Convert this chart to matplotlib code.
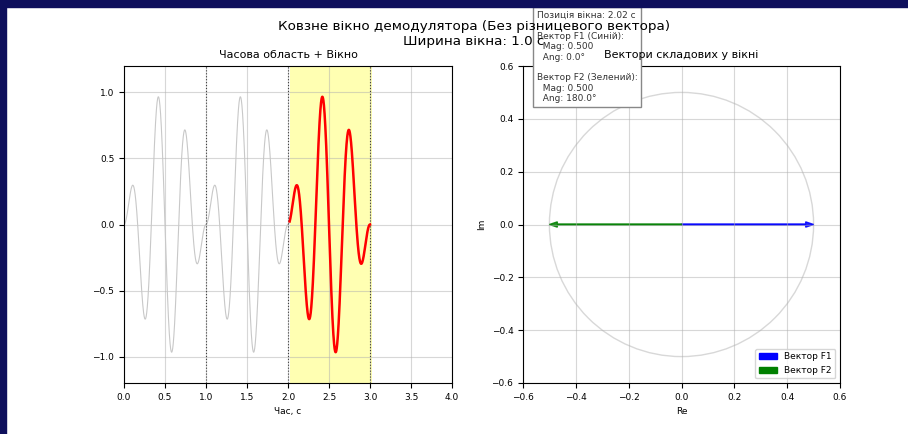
import numpy as np
import matplotlib.pyplot as plt
from matplotlib.patches import Circle, Rectangle

# складові сигналу (однакові для кожного символу 1 с)
comp_names = ["F1", "F2"]
comp_freqs = [2.5, 3.5]      # Гц
comp_mags = [0.5, 0.5]
comp_angles = [0.0, 180.0]   # градуси
comp_colors = ["blue", "green"]
comp_color_names = ["Синій", "Зелений"]

symbol_len = 1.0      # с
signal_len = 3.0      # с
win_width = 1.0       # с
win_pos = 2.02        # с
symbol_edges = [1.0, 2.0, 3.0]

# сигнал: сума складових, фаза скидається на початку кожного символу
t = np.linspace(0, signal_len, 3001)
tau = np.mod(t, symbol_len)
sig = np.zeros_like(t)
for f, m, a in zip(comp_freqs, comp_mags, comp_angles):
    sig += m * np.cos(2 * np.pi * f * tau + np.deg2rad(a))

fig = plt.figure(figsize=(9.08, 4.34), dpi=100)

# темна рамка зверху і зліва
fig.patches.append(Rectangle((0, 1 - 7/434), 1, 7/434, transform=fig.transFigure,
                             color='#0e0f5c', zorder=10))
fig.patches.append(Rectangle((0, 0), 6/908, 1, transform=fig.transFigure,
                             color='#0e0f5c', zorder=10))

fig.suptitle("Ковзне вікно демодулятора (Без різницевого вектора)\n"
             f"Ширина вікна: {win_width:.1f} с",
             x=0.522, y=0.955, fontsize=9.7, va='top', zorder=5)

# --- часова область ---
ax1 = fig.add_axes([124/908, 1 - 383/434, 328/908, 317/434])
ax1.plot(t, sig, color='#c8c8c8', lw=0.8)
ax1.axvspan(win_pos, win_pos + win_width, color='yellow', alpha=0.3, lw=0)
for e in symbol_edges:
    ax1.axvline(e, color='k', ls=':', lw=0.8, alpha=0.7)
mask = (t >= win_pos) & (t <= win_pos + win_width)
ax1.plot(t[mask], sig[mask], color='red', lw=1.8)
ax1.set_xlim(0, 4)
ax1.set_ylim(-1.2, 1.2)
ax1.set_xticks(np.arange(0, 4.01, 0.5))
ax1.set_yticks([-1.0, -0.5, 0.0, 0.5, 1.0])
ax1.set_title("Часова область + Вікно", fontsize=8)
ax1.set_xlabel("Час, с", fontsize=6.5)
ax1.tick_params(labelsize=6.5)
ax1.grid(True, alpha=0.5)

# --- вектори ---
ax2 = fig.add_axes([523/908, 1 - 383/434, 317/908, 317/434])
ax2.add_patch(Circle((0, 0), 0.5, fill=False, color='#d8d8d8', lw=1))
for name, m, a, c in zip(comp_names, comp_mags, comp_angles, comp_colors):
    dx = m * np.cos(np.deg2rad(a))
    dy = m * np.sin(np.deg2rad(a))
    ax2.arrow(0, 0, dx, dy, width=0.004, head_width=0.02, head_length=0.03,
              length_includes_head=True, fc=c, ec=c, alpha=0.85, label=f"Вектор {name}")
ax2.set_xlim(-0.6, 0.6)
ax2.set_ylim(-0.6, 0.6)
ax2.set_aspect('equal')
ax2.set_xticks(np.arange(-0.6, 0.61, 0.2))
ax2.set_yticks(np.arange(-0.6, 0.61, 0.2))
ax2.set_title("Вектори складових у вікні", fontsize=8, zorder=4)
ax2.set_xlabel("Re", fontsize=6.5)
ax2.set_ylabel("Im", fontsize=6.5)
ax2.tick_params(labelsize=6.5)
ax2.grid(True, alpha=0.5)
leg = ax2.legend(loc='lower right', fontsize=6.5)
for h in leg.legend_handles:
    h.set_alpha(1)

# інфо-блок (під заголовками, над сіткою)
info = f"Позиція вікна: {win_pos:.2f} с\n"
for name, m, a, cn in zip(comp_names, comp_mags, comp_angles, comp_color_names):
    info += f"\nВектор {name} ({cn}):\n  Mag: {m:.3f}\n  Ang: {a:.1f}°\n"
ax2.text(537/908, 1 - 11/434, info.rstrip('\n'), transform=fig.transFigure,
         fontsize=6.5, va='top', ha='left', color='#333333', zorder=2.8, clip_on=False,
         bbox=dict(boxstyle='square,pad=0.4', fc='white', ec='#888888'))

plt.savefig("out.png", dpi=100)
plt.close()
